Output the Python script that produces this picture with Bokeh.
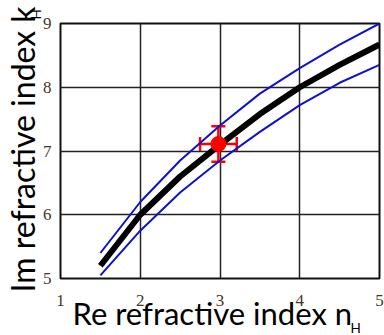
import math
from bokeh.plotting import figure
from bokeh.models import Label, Whisker, ColumnDataSource, FixedTicker, TeeHead
from bokeh.embed import file_html
from bokeh.resources import INLINE

# data
n_vals = [1.5, 2.0, 2.5, 3.0, 3.5, 4.0, 4.5, 5.0]
k_mid = [5.2, 6.0, 6.6, 7.1, 7.58, 8.0, 8.35, 8.67]
k_upper = [5.4, 6.2, 6.85, 7.4, 7.9, 8.3, 8.67, 9.0]
k_lower = [5.05, 5.75, 6.35, 6.85, 7.3, 7.72, 8.07, 8.35]
point_n = [2.98]
point_k = [7.11]
err_n = [0.23]
err_k = [0.28]
x_ticks = [1, 2, 3, 4, 5]
y_ticks = [5, 6, 7, 8, 9]

# canvas is enlarged on the left/top and shifted back with negative margins,
# so the axis-title panels get room without moving the plot frame
SX, SY = 30, 100
W, H = 384 + SX, 335 + SY
p = figure(width=W, height=H, x_range=(1, 5), y_range=(5, 9),
           output_backend="svg", toolbar_location=None,
           min_border_left=60 + SX, min_border_top=23 + SY, min_border_right=5,
           min_border_bottom=57)
p.styles = {"margin-left": f"-{SX}px", "margin-top": f"-{SY}px"}
p.background_fill_color = "white"
p.border_fill_color = "white"
p.outline_line_color = "#111111"
p.outline_line_width = 2

for ax in (p.xaxis[0], p.yaxis[0]):
    ax.axis_line_color = None
    ax.major_tick_line_color = None
    ax.minor_tick_line_color = None
    ax.major_label_text_font = "Liberation Serif"
    ax.major_label_text_font_size = "17px"
    ax.major_label_text_color = "#4a3626"
p.xaxis.ticker = FixedTicker(ticks=x_ticks)
p.yaxis.ticker = FixedTicker(ticks=y_ticks)
p.xaxis.major_label_text_align = "left"
p.xaxis.major_label_standoff = 10
p.yaxis.major_label_standoff = 3
p.xgrid.ticker = FixedTicker(ticks=x_ticks)
p.ygrid.ticker = FixedTicker(ticks=y_ticks)
for g in (p.xgrid[0], p.ygrid[0]):
    g.grid_line_color = "#222222"
    g.grid_line_width = 1.5
    g.grid_line_alpha = 1

p.line(n_vals, k_upper, line_color="#1010d0", line_width=2)
p.line(n_vals, k_lower, line_color="#1010d0", line_width=2)
p.line(n_vals, k_mid, line_color="black", line_width=6)

src = ColumnDataSource(dict(
    n=point_n, k=point_k,
    nlo=[a - b for a, b in zip(point_n, err_n)],
    nhi=[a + b for a, b in zip(point_n, err_n)],
    klo=[a - b for a, b in zip(point_k, err_k)],
    khi=[a + b for a, b in zip(point_k, err_k)],
))
red = "#ff0000"
for dim, base, lo, hi in (("width", "k", "nlo", "nhi"), ("height", "n", "klo", "khi")):
    w = Whisker(source=src, base=base, lower=lo, upper=hi, dimension=dim,
                line_color=red, line_width=2.5,
                upper_head=TeeHead(size=14, line_color=red, line_width=2.5),
                lower_head=TeeHead(size=14, line_color=red, line_width=2.5))
    p.add_layout(w)
p.scatter("n", "k", source=src, size=15, color=red)

font = "Lato"
common = dict(x_units="data", y_units="data", text_font=font, text_color="black",
              text_baseline="alphabetic", text_align="left")
# x-axis title and its subscript
p.add_layout(Label(x=1.15, y=4.451, text="Re refractive index n",
                   text_font_size="31px", **common), "above")
p.add_layout(Label(x=4.636, y=4.228, text="H",
                   text_font_size="13.5px", **common), "above")
# y-axis title and its subscript
p.add_layout(Label(x=0.524, y=4.78, text="Im refractive index k",
                   text_font_size="32px", angle=math.pi / 2, **common), "left")
p.add_layout(Label(x=0.691, y=9.063, text="H",
                   text_font_size="13.5px", angle=math.pi / 2, **common), "above")

open("out.html", "w").write(file_html(p, INLINE))
